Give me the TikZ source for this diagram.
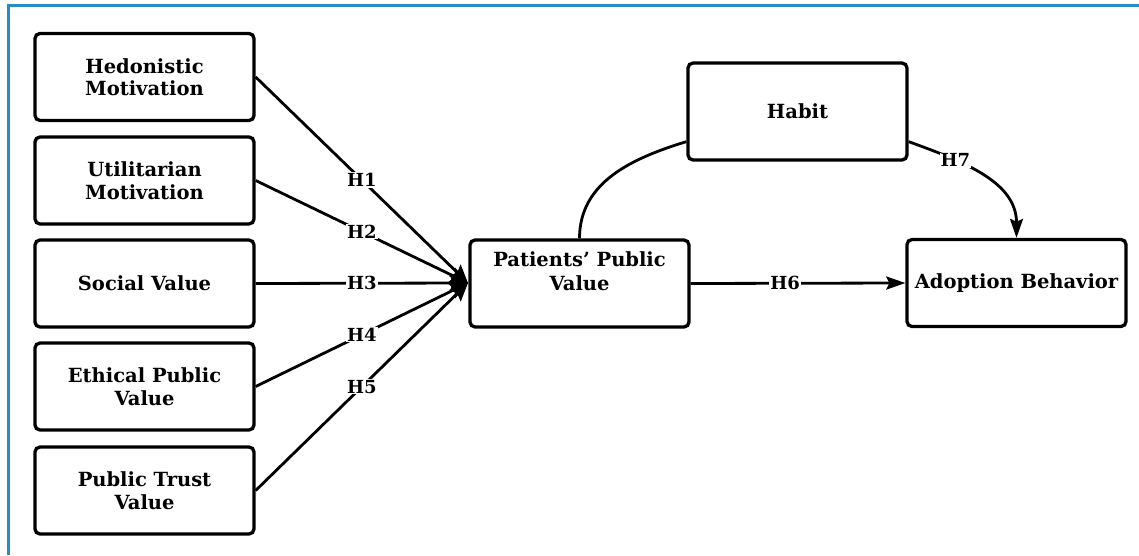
\documentclass[tikz,border=0pt]{standalone}
\usepackage{fontspec}
\setmainfont{DejaVu Serif}
\usetikzlibrary{arrows.meta,calc}
\definecolor{frameblue}{RGB}{38,140,200}
\begin{document}
\begin{tikzpicture}[x=1pt,y=1pt,
  boxnode/.style={draw,line width=3.3pt,rounded corners=5pt,minimum width=219pt,minimum height=87pt,
    align=center,font=\fontsize{19.5}{22.5}\selectfont\bfseries,inner sep=0pt},
  conn/.style={line width=2.8pt},
  bigtip/.style={conn,-{Stealth[length=18pt,width=16pt,inset=3pt]}},
  tip/.style={conn,-{Stealth[length=19pt,width=13pt,inset=3pt]}},
  hlab/.style={fill=white,inner sep=1pt,font=\fontsize{18}{18}\selectfont\bfseries}]
\useasboundingbox (0,0) rectangle (1139,555);
\draw[frameblue,line width=3pt] (1139,549) -- (8,549) -- (8,0);
\node[boxnode] (hed) at (144.5,478) {Hedonistic\\Motivation};
\node[boxnode] (uti) at (144.5,374.5) {Utilitarian\\Motivation};
\node[boxnode] (soc) at (144.5,271.5) {Social Value};
\node[boxnode] (eth) at (144.5,168.5) {Ethical Public\\Value};
\node[boxnode] (pub) at (144.5,64.5) {Public Trust\\Value};
\node[boxnode] (ppv) at (579.5,271.5) {};
\node[align=center,font=\fontsize{19.5}{24.5}\selectfont\bfseries,inner sep=0pt] (ppvt) at (579.5,284) {Patients’ Public\\Value};
\node[boxnode,minimum height=97pt] (hab) at (797.5,443.5) {Habit};
\node[boxnode] (ado) at (1016.5,272) {Adoption Behavior};
\coordinate (tip) at (468,272);
\draw[bigtip] (hed.east) -- node[hlab,pos=0.5]{H1} (tip);
\draw[bigtip] (uti.east) -- node[hlab,pos=0.5]{H2} (tip);
\draw[bigtip] (soc.east) -- node[hlab,pos=0.5]{H3} (tip);
\draw[bigtip] (eth.east) -- node[hlab,pos=0.5]{H4} (tip);
\draw[bigtip] (pub.east) -- node[hlab,pos=0.5]{H5} (tip);
\draw[tip] (ppv.east) -- node[hlab,pos=0.44]{H6} (ado.west);
\coordinate (habw) at ($(hab.south west)+(0,20)$);
\coordinate (habe) at ($(hab.south east)+(0,20)$);
\draw[conn] (ppv.north) to[out=90,in=197] (habw);
\draw[tip] (habe) to[out=-20,in=90] node[hlab,pos=0.3]{H7} (ado.north);
\end{tikzpicture}
\end{document}
